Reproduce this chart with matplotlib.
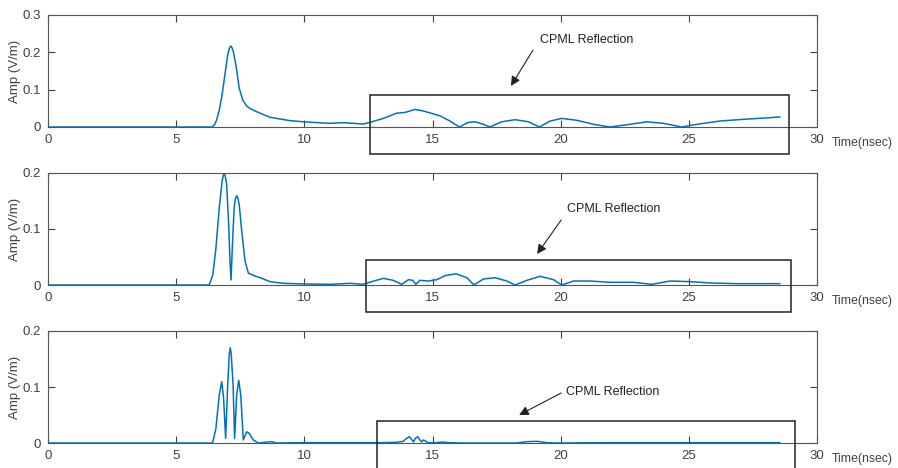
import matplotlib
matplotlib.use("Agg")
import matplotlib.pyplot as plt
from matplotlib.patches import Rectangle

plt.rcParams['font.family'] = ['Liberation Sans', 'DejaVu Sans']

# time axis (nsec) and amplitude (V/m)
t_top = [0, 6.39, 6.50, 6.58, 6.68, 6.78, 6.91, 7.01, 7.08, 7.13, 7.18, 7.23, 7.34, 7.46,
         7.60, 7.75, 7.92, 8.14, 8.66, 9.44, 10.09, 11.0, 11.52, 12.3, 12.56, 13.08, 13.6,
         13.93, 14.32, 14.64, 15.29, 15.68, 16.05, 16.4, 16.66, 16.98, 17.24, 17.70, 18.22,
         18.74, 19.17, 19.59, 20.04, 20.63, 21.28, 21.93, 22.71, 23.36, 24.01, 24.72,
         25.31, 26.22, 27.13, 28.17, 28.55]
amp_top = [0, 0, 0.006, 0.019, 0.045, 0.081, 0.144, 0.193, 0.212, 0.217, 0.212, 0.202,
           0.162, 0.104, 0.072, 0.056, 0.048, 0.041, 0.026, 0.017, 0.0134, 0.0098, 0.0116,
           0.008, 0.0125, 0.023, 0.037, 0.039, 0.047, 0.043, 0.030, 0.016, 0.0, 0.0125,
           0.014, 0.0072, 0.0, 0.014, 0.0196, 0.014, 0.0, 0.016, 0.023, 0.018, 0.0072, 0.0,
           0.0072, 0.014, 0.0098, 0.0, 0.0072, 0.016, 0.0206, 0.025, 0.027]

t_mid = [0, 6.29, 6.43, 6.55, 6.68, 6.79, 6.84, 6.88, 6.92, 6.97, 7.05, 7.10, 7.14, 7.19,
         7.26, 7.31, 7.36, 7.41, 7.46, 7.56, 7.69, 7.82, 8.08, 8.34, 8.66, 9.18, 10.09,
         11.0, 11.78, 12.3, 12.63, 13.08, 13.47, 13.8, 14.06, 14.23, 14.35, 14.51, 14.84,
         15.17, 15.49, 15.92, 16.34, 16.62, 16.98, 17.44, 17.9, 18.22, 18.68, 19.2, 19.72,
         20.04, 20.5, 21.15, 21.93, 22.84, 23.55, 24.27, 25.05, 25.83, 26.87, 27.91, 28.55]
amp_mid = [0, 0, 0.018, 0.0655, 0.137, 0.1845, 0.196, 0.1995, 0.193, 0.179, 0.107, 0.042,
           0.009, 0.0655, 0.137, 0.154, 0.1595, 0.155, 0.143, 0.095, 0.042, 0.021, 0.016,
           0.012, 0.006, 0.003, 0.0018, 0.0012, 0.003, 0.0012, 0.006, 0.0119, 0.0083,
           0.0012, 0.0095, 0.0083, 0.0012, 0.0083, 0.0071, 0.0095, 0.0167, 0.020, 0.013,
           0.0, 0.0107, 0.013, 0.0071, 0.0, 0.0083, 0.0155, 0.0095, 0.0, 0.0071, 0.0071,
           0.0048, 0.0048, 0.0012, 0.0071, 0.006, 0.0036, 0.0024, 0.0024, 0.0024]

t_bot = [0, 6.42, 6.55, 6.68, 6.78, 6.85, 6.93, 7.01, 7.07, 7.11, 7.15, 7.22, 7.28, 7.36,
         7.44, 7.52, 7.62, 7.75, 7.85, 8.01, 8.21, 8.73, 8.92, 10.0, 11.5, 13.0, 13.6,
         13.86, 13.99, 14.1, 14.2, 14.26, 14.33, 14.42, 14.51, 14.58, 14.64, 14.71, 14.8,
         15.17, 15.42, 15.62, 16.2, 18.29, 18.68, 19.07, 19.46, 19.85, 22.0, 25.0, 28.55]
amp_bot = [0, 0, 0.026, 0.0857, 0.1095, 0.080, 0.0083, 0.1036, 0.158, 0.170, 0.158,
           0.1036, 0.0083, 0.0857, 0.112, 0.0857, 0.0054, 0.020, 0.0173, 0.0054, 0.0,
           0.0024, 0.0, 0.0006, 0.0006, 0.0006, 0.0012, 0.003, 0.0083, 0.0113, 0.0054,
           0.0018, 0.0083, 0.0113, 0.0054, 0.0018, 0.0054, 0.0042, 0.0006, 0.0006, 0.0018,
           0.0006, 0.0, 0.0, 0.0024, 0.003, 0.0006, 0.0, 0.0006, 0.0006, 0.0006]

x_ticks = [0, 5, 10, 15, 20, 25, 30]
y_ticks_top = [0, 0.1, 0.2, 0.3]
y_ticks_low = [0, 0.1, 0.2]

# reflection boxes (t0, t1, a0, a1) and annotation (text xy, arrow tail, arrow head)
box_top = (12.56, 28.9, -0.072, 0.0857)
box_mid = (12.41, 29.0, -0.048, 0.0446)
box_bot = (12.84, 29.15, -0.08, 0.0393)
note_top = ((19.2, 0.233), (18.92, 0.206), (18.06, 0.110))
note_mid = ((20.25, 0.1357), (20.02, 0.116), (19.08, 0.0554))
note_bot = ((20.21, 0.091), (20.02, 0.0893), (18.38, 0.050))

W, H = 898, 468
fig = plt.figure(figsize=(W / 100, H / 100), dpi=100)

panels = [
    (15, t_top, amp_top, y_ticks_top, box_top, note_top),
    (173, t_mid, amp_mid, y_ticks_low, box_mid, note_mid),
    (331, t_bot, amp_bot, y_ticks_low, box_bot, note_bot),
]

grey = '#404040'
for top_px, t, a, yt, box, note in panels:
    ax = fig.add_axes([48 / W, 1 - (top_px + 112) / H, 769 / W, 112 / H])
    ax.plot(t, a, color='#0072BD', lw=1.1)
    ax.set_xlim(0, 30)
    ax.set_ylim(yt[0], yt[-1])
    ax.set_xticks(x_ticks)
    ax.set_xticklabels([str(v) for v in x_ticks])
    ax.set_yticks(yt)
    ax.set_yticklabels(['0' if v == 0 else f'{v:g}' for v in yt])
    ax.tick_params(direction='in', top=True, right=True, length=5, width=0.8,
                   colors=grey, labelsize=9.5, pad=5)
    for s in ax.spines.values():
        s.set_color('#555555')
        s.set_linewidth(0.8)
    ax.set_ylabel('Amp (V/m)', fontsize=9.5, color=grey, labelpad=1)
    ax.text(1.019, -16 / 112, 'Time(nsec)', transform=ax.transAxes,
            ha='left', va='center', fontsize=8.8, color=grey)

    t0, t1, a0, a1 = box
    ax.add_patch(Rectangle((t0, a0), t1 - t0, a1 - a0, fill=False, ec='#222222',
                           lw=1.1, clip_on=False, zorder=5))
    txt, tail, head = note
    ax.text(txt[0], txt[1], 'CPML Reflection', fontsize=9, color='#222222',
            ha='left', va='center')
    ax.annotate('', xy=head, xytext=tail,
                arrowprops=dict(arrowstyle='-|>', color='#222222', lw=0.8,
                                mutation_scale=14, shrinkA=0, shrinkB=0))

fig.savefig('out.png', dpi=100)
